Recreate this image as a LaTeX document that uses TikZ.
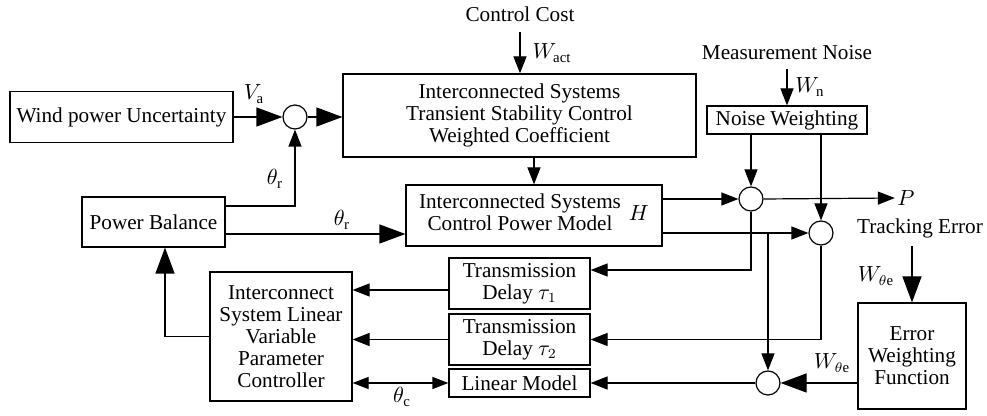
\documentclass[tikz,border=0pt]{standalone}
\usepackage{fontspec}
\setmainfont{Liberation Serif}
\usetikzlibrary{arrows.meta,positioning,calc}

\begin{document}
\begin{tikzpicture}[
    x=0.5pt, y=-0.5pt,
    line width=0.6pt,
    font=\fontsize{10.6}{11}\selectfont,
    box/.style     = {rectangle, draw, align=center, inner sep=1pt},
    sumnode/.style = {circle, draw, minimum size=12pt, inner sep=0pt},
    lbl/.style     = {inner sep=1pt},
    barr/.style    = {-{Triangle[length=13pt, width=9.5pt]}},
    sarr/.style    = {-{Triangle[length=8.5pt, width=6.5pt]}},
    darr/.style    = {{Triangle[length=8pt, width=6pt]}-{Triangle[length=8pt, width=6pt]}}
  ]
    \useasboundingbox (0,0) rectangle (987,416);

    % blocks
    \node[box, minimum width=111.5pt, minimum height=25.5pt] (wind) at (121.5,117) {Wind power Uncertainty};
    \node[box, minimum width=176.5pt, minimum height=41.5pt] (ctrl) at (519.5,115.5)
        {Interconnected Systems\\Transient Stability Control\\Weighted Coefficient};
    \node[box, minimum width=128pt, minimum height=30.5pt] (model) at (534,215.5)
        {\begin{tabular}{@{}c@{}}Interconnected Systems\\Control Power Model\end{tabular}\hspace{4pt}$H$};
    \node[box, minimum width=71.5pt, minimum height=25pt] (pbal) at (153.5,222) {Power Balance};
    \node[box, minimum width=80pt, minimum height=14pt] (noisew) at (787,120) {Noise Weighting};
    \node[box, minimum width=70.5pt, minimum height=25.5pt] (delay1) at (519.5,283.5) {Transmission\\Delay $\tau_1$};
    \node[box, minimum width=70.5pt, minimum height=25.5pt] (delay2) at (519.5,339.5) {Transmission\\Delay $\tau_2$};
    \node[box, minimum width=70.5pt, minimum height=14pt] (linmod) at (519.5,383) {Linear Model};
    \node[box, minimum width=71pt, minimum height=64.5pt] (lpv) at (281,336.5)
        {Interconnect\\System Linear\\Variable\\Parameter\\Controller};
    \node[box, minimum width=54pt, minimum height=53pt] (errw) at (912,356) {Error\\Weighting\\Function};

    % summing junctions
    \node[sumnode] (s1) at (295,117) {};
    \node[sumnode] (s2) at (751,199) {};
    \node[sumnode] (s3) at (821,233) {};
    \node[sumnode] (s4) at (768,383) {};

    % labels
    \node[lbl] (cost)   at (520,14)  {Control Cost};
    \node[lbl] (wact)   at (552,53)  {$W_{\mathrm{act}}$};
    \node[lbl] (mnoise) at (787,53)  {Measurement Noise};
    \node[lbl] (wn)     at (810,87)  {$W_{\mathrm{n}}$};
    \node[lbl] (va)     at (254,94)  {$V_{\mathrm{a}}$};
    \node[lbl] (thr1)   at (275,179) {$\theta_{\mathrm{r}}$};
    \node[lbl] (thr2)   at (342,220) {$\theta_{\mathrm{r}}$};
    \node[lbl] (plab)   at (906,198) {$P$};
    \node[lbl] (trk)    at (920,228) {Tracking Error};
    \node[lbl] (wte1)   at (876,276) {$W_{\theta\mathrm{e}}$};
    \node[lbl] (wte2)   at (832,363) {$W_{\theta\mathrm{e}}$};
    \node[lbl] (thc)    at (402,397) {$\theta_{\mathrm{c}}$};

    % connectors
    \draw[barr] (wind) -- (s1);
    \draw[barr] (s1.east) -- (s1.east -| ctrl.west);
    \draw[sarr, shorten <=4pt] (cost.south) -- (cost.south |- ctrl.north);
    \draw[sarr] (ctrl.south -| model.north) -- (model.north);
    \draw[sarr] ([yshift=8pt]pbal.east) -| (s1.south);
    \draw[barr] ([yshift=-6pt]pbal.east) -- ([yshift=-6pt]pbal.east -| model.west);
    \draw[sarr, shorten <=3pt] (mnoise.south -| noisew.north) -- (noisew.north);
    \draw[sarr] (noisew.south -| s2.north) -- (s2.north);
    \draw[sarr] (noisew.south -| s3.north) -- (s3.north);
    \draw[sarr] (s2.west -| model.east) -- (s2.west);
    \draw[sarr] (s2.east) -- (plab.west);
    \draw[sarr] (s3.west -| model.east) -- (s3.west);
    \coordinate (br) at (s4.north |- s3.west);
    \draw[sarr] (br) -- (s4.north);
    \draw[sarr] (s2.south) |- ([yshift=6.75pt]delay1.east);
    \draw[sarr] (s3.south) |- (delay2.east);
    \draw[sarr] (s4.west) -- (linmod.east);
    \draw[barr] (s4.east -| errw.west) -- (s4.east);
    \draw[barr, shorten <=3pt] (errw.north |- trk.south) -- (errw.north);
    \draw[sarr] ([yshift=-3.25pt]delay1.west) -- ([yshift=-3.25pt]delay1.west -| lpv.east);
    \draw[sarr] (delay2.west) -- (delay2.west -| lpv.east);
    \draw[darr] (linmod.west -| lpv.east) -- (linmod.west);
    \draw[barr] (lpv.west) -| ([xshift=5.75pt]pbal.south);
\end{tikzpicture}
\end{document}
